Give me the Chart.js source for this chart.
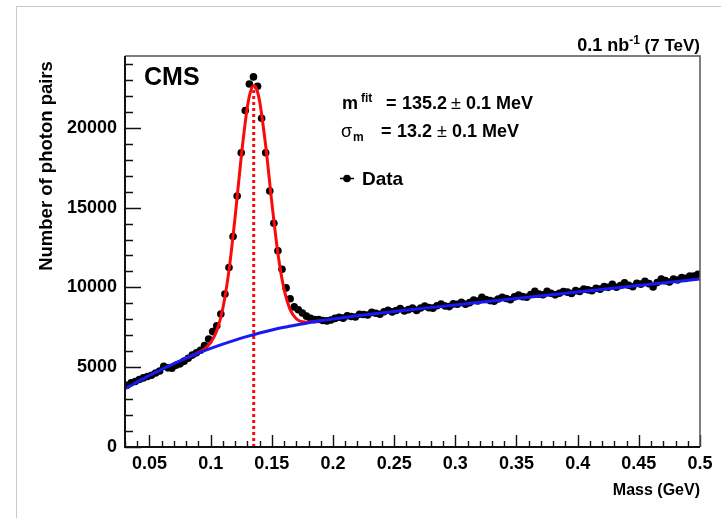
<!DOCTYPE html>
<html>
<head>
<meta charset="utf-8">
<script src="https://cdn.jsdelivr.net/npm/chart.js@4/dist/chart.umd.min.js"></script>
<style>
  html, body { margin: 0; padding: 0; background: #fff; }
  #wrap { position: relative; width: 721px; height: 518px; overflow: hidden; }
  canvas { display: block; }
</style>
</head>
<body>
<div id="wrap"><canvas id="c" width="721" height="518"></canvas></div>
<script>
// Diphoton invariant-mass histogram: bins of 1/300 GeV starting at 0.03 GeV
const binLow = 0.03;
const binWidth = 1 / 300;
const counts = [
  3870, 4020, 4100, 4230, 4330, 4420, 4500, 4640, 4760, 5060,
  4960, 4940, 5120, 5210, 5380, 5560, 5760, 5900, 6060, 6350,
  6770, 7230, 7600, 8330, 9580, 11250, 13190, 15725, 18440, 21080,
  22750, 23190, 22600, 20600, 18440, 16040, 14020, 12290, 11140, 9970,
  9290, 8780, 8600, 8400, 8200, 8060, 7980, 7990, 7930, 7900,
  7962, 8057, 8130, 8073, 8227, 8180, 8143, 8315, 8305, 8275,
  8435, 8385, 8315, 8475, 8565, 8465, 8554, 8681, 8518, 8606,
  8703, 8560, 8708, 8825, 8732, 8700, 8847, 8964, 8832, 8799,
  8966, 8944, 9061, 8948, 9046, 9203, 9150, 9378, 9245, 9172,
  9130, 9277, 9384, 9302, 9229, 9406, 9523, 9420, 9387, 9553,
  9760, 9577, 9543, 9760, 9627, 9533, 9630, 9747, 9703, 9620,
  9797, 9744, 9891, 9848, 9786, 9943, 9890, 10048, 10005, 10192,
  10010, 10117, 10284, 10132, 10039, 10256, 10203, 10380, 10237, 10033,
  10300, 10517, 10423, 10340, 10517, 10463, 10610, 10567, 10713, 10710,
  10827
];

// Background component of the fit (blue)
const bkgMass = [0.03, 0.04, 0.05, 0.06, 0.07, 0.08, 0.09, 0.10, 0.11, 0.12, 0.13, 0.14, 0.15,
                 0.16, 0.17, 0.18, 0.19, 0.20, 0.22, 0.25, 0.30, 0.35, 0.40, 0.45, 0.50];
const bkgFit  = [3650, 4080, 4480, 4870, 5230, 5570, 5890, 6180, 6450, 6700, 6930, 7140, 7330,
                 7500, 7650, 7790, 7910, 8020, 8220, 8490, 8900, 9310, 9710, 10120, 10520];

// Signal + background fit around the pi0 peak (red)
const fitMass = [0.080, 0.085, 0.090, 0.095, 0.100, 0.105, 0.110, 0.115, 0.120, 0.125, 0.130, 0.1325,
                 0.1352, 0.1375, 0.140, 0.145, 0.150, 0.155, 0.160, 0.165, 0.170, 0.175, 0.180, 0.185, 0.190];
const fitTotal = [5571, 5737, 5921, 6147, 6536, 7280, 8696, 11068, 14406, 18172, 21298, 22240,
                  22640, 22438, 21680, 18873, 15333, 12126, 9887, 8612, 8037, 7844, 7824, 7858, 7910];

const peakMass = 0.1352;   // fitted mass, GeV
const peakHeight = 22640;  // fit value at the fitted mass

const xTicks = [0.05, 0.1, 0.15, 0.2, 0.25, 0.3, 0.35, 0.4, 0.45, 0.5];
const xTickLabels = ['0.05', '0.1', '0.15', '0.2', '0.25', '0.3', '0.35', '0.4', '0.45', '0.5'];
const yTicks = [0, 5000, 10000, 15000, 20000];
const yTickLabels = ['0', '5000', '10000', '15000', '20000'];

const FONT = '"Liberation Sans", Arial, Helvetica, sans-serif';

const dataPoints = counts.map((v, i) => ({ x: binLow + (i + 0.5) * binWidth, y: v }));
const bkgPoints = bkgMass.map((m, i) => ({ x: m, y: bkgFit[i] }));
const fitPoints = fitMass.map((m, i) => ({ x: m, y: fitTotal[i] }));

// draws a run of text pieces with their own fonts and vertical shifts
function textRun(ctx, parts, x, y) {
  let cx = x;
  for (const p of parts) {
    ctx.font = p.font;
    ctx.fillText(p.t, cx, y + (p.dy || 0));
    cx += ctx.measureText(p.t).width;
  }
  return cx;
}
function runWidth(ctx, parts) {
  let w = 0;
  for (const p of parts) { ctx.font = p.font; w += ctx.measureText(p.t).width; }
  return w;
}
// draws text pieces each at its own x position
function placed(ctx, parts, y) {
  for (const p of parts) {
    ctx.font = p.font;
    ctx.fillText(p.t, p.x, y + (p.dy || 0));
  }
}

const frameAndText = {
  id: 'frameAndText',
  beforeDraw(chart) {
    const ctx = chart.ctx;
    ctx.save();
    ctx.fillStyle = '#fff';
    ctx.fillRect(0, 0, chart.width, chart.height);
    ctx.strokeStyle = '#c9c9c9';
    ctx.lineWidth = 1;
    ctx.strokeRect(16.5, 6.5, 900, 700);
    ctx.restore();
  },
  afterDatasetsDraw(chart) {
    const { ctx, chartArea: a, scales: { x, y } } = chart;
    ctx.save();
    // inward ticks
    ctx.strokeStyle = '#111';
    ctx.lineWidth = 1.4;
    ctx.beginPath();
    for (let k = 3; k <= 50; k++) {
      const px = Math.round(x.getPixelForValue(k / 100)) + 0.5;
      const len = (k % 5 === 0) ? 12 : 6;
      ctx.moveTo(px, a.bottom);
      ctx.lineTo(px, a.bottom - len);
    }
    for (let k = 0; k <= 24; k++) {
      const py = Math.round(y.getPixelForValue(k * 1000)) + 0.5;
      const len = (k % 5 === 0) ? 16 : 8;
      ctx.moveTo(a.left, py);
      ctx.lineTo(a.left + len, py);
    }
    ctx.stroke();
    // frame
    ctx.strokeStyle = '#555';
    ctx.lineWidth = 1.5;
    ctx.beginPath();
    ctx.moveTo(a.left, a.top); ctx.lineTo(a.right, a.top); ctx.lineTo(a.right, a.bottom);
    ctx.stroke();
    ctx.strokeStyle = '#111';
    ctx.lineWidth = 2;
    ctx.beginPath();
    ctx.moveTo(a.left, a.top); ctx.lineTo(a.left, a.bottom); ctx.lineTo(a.right, a.bottom);
    ctx.stroke();
    ctx.restore();
  },
  afterDraw(chart) {
    const ctx = chart.ctx;
    ctx.save();
    ctx.fillStyle = '#000';
    ctx.textBaseline = 'alphabetic';
    ctx.textAlign = 'left';

    // luminosity / energy label
    const lumi = [
      { t: '0.1 nb', font: 'bold 18px ' + FONT },
      { t: '-1', font: 'bold 12px ' + FONT, dy: -7 },
      { t: ' (7 TeV)', font: 'bold 17px ' + FONT }
    ];
    textRun(ctx, lumi, 700 - runWidth(ctx, lumi), 51);

    // experiment label
    ctx.font = 'bold 25px ' + FONT;
    ctx.fillText('CMS', 144, 85);

    // fit results
    const big = 'bold 18px ' + FONT;
    const sym = '18px ' + FONT;
    const small = 'bold 12px ' + FONT;
    placed(ctx, [
      { t: 'm', font: big, x: 342 },
      { t: 'fit', font: small, x: 361, dy: -7 },
      { t: '=', font: big, x: 386 },
      { t: '135.2', font: big, x: 402 },
      { t: '\u00b1', font: sym, x: 451 },
      { t: '0.1', font: big, x: 466 },
      { t: 'MeV', font: big, x: 496 }
    ], 109);
    placed(ctx, [
      { t: '\u03c3', font: sym, x: 341 },
      { t: 'm', font: small, x: 353, dy: 4 },
      { t: '=', font: big, x: 381 },
      { t: '13.2', font: big, x: 397 },
      { t: '\u00b1', font: sym, x: 437 },
      { t: '0.1', font: big, x: 452 },
      { t: 'MeV', font: big, x: 482 }
    ], 137);

    // legend entry
    ctx.strokeStyle = '#000';
    ctx.lineWidth = 1.5;
    ctx.beginPath();
    ctx.moveTo(340, 178.5); ctx.lineTo(354, 178.5);
    ctx.stroke();
    ctx.beginPath();
    ctx.arc(347, 178.5, 3.8, 0, Math.PI * 2);
    ctx.fill();
    ctx.font = 'bold 19px ' + FONT;
    ctx.fillText('Data', 362, 185);
    ctx.restore();
  }
};

new Chart(document.getElementById('c'), {
  type: 'line',
  data: {
    datasets: [
      {
        label: 'Background',
        data: bkgPoints,
        borderColor: 'rgb(25,25,245)',
        borderWidth: 3,
        pointRadius: 0,
        cubicInterpolationMode: 'monotone',
        fill: false,
        order: 0
      },
      {
        label: 'Fit',
        data: fitPoints,
        borderColor: 'rgb(250,10,10)',
        borderWidth: 3,
        pointRadius: 0,
        cubicInterpolationMode: 'monotone',
        fill: false,
        order: 1
      },
      {
        label: 'Peak',
        data: [{ x: peakMass, y: 0 }, { x: peakMass, y: peakHeight }],
        borderColor: 'rgb(250,10,10)',
        borderWidth: 3,
        borderDash: [3, 3],
        pointRadius: 0,
        fill: false,
        order: 2
      },
      {
        label: 'Data',
        data: dataPoints,
        showLine: false,
        pointRadius: 3.8,
        pointBackgroundColor: '#000',
        pointBorderWidth: 0,
        pointBorderColor: '#000',
        order: 3
      }
    ]
  },
  options: {
    responsive: false,
    devicePixelRatio: 1,
    animation: false,
    events: [],
    layout: { padding: { top: 56, right: 21, left: 0, bottom: 0 } },
    plugins: { legend: { display: false }, tooltip: { enabled: false }, title: { display: false } },
    scales: {
      x: {
        type: 'linear',
        min: 0.03,
        max: 0.5,
        grid: { display: false, drawTicks: false },
        border: { display: false },
        afterBuildTicks: (s) => { s.ticks = xTicks.map(v => ({ value: v })); },
        afterFit: (s) => { s.height = 71; },
        ticks: {
          autoSkip: false,
          maxRotation: 0,
          padding: 6,
          color: '#000',
          font: { family: FONT, size: 18, weight: 'bold' },
          callback: (v) => { const i = xTicks.findIndex(t => Math.abs(t - v) < 1e-9); return i >= 0 ? xTickLabels[i] : ''; }
        },
        title: {
          display: true,
          text: 'Mass (GeV)',
          align: 'end',
          color: '#000',
          font: { family: FONT, size: 16, weight: 'bold' },
          padding: { top: 0, bottom: 18 }
        }
      },
      y: {
        type: 'linear',
        min: 0,
        max: 24500,
        grid: { display: false, drawTicks: false },
        border: { display: false },
        afterBuildTicks: (s) => { s.ticks = yTicks.map(v => ({ value: v })); },
        afterFit: (s) => { s.width = 125; },
        ticks: {
          autoSkip: false,
          padding: 8,
          color: '#000',
          font: { family: FONT, size: 18, weight: 'bold' },
          callback: (v) => { const i = yTicks.indexOf(v); return i >= 0 ? yTickLabels[i] : ''; }
        },
        title: {
          display: true,
          text: 'Number of photon pairs ',
          align: 'end',
          color: '#000',
          font: { family: FONT, size: 18.5, weight: 'bold' },
          padding: { top: 36, bottom: 0 }
        }
      }
    }
  },
  plugins: [frameAndText]
});
</script>
</body>
</html>
